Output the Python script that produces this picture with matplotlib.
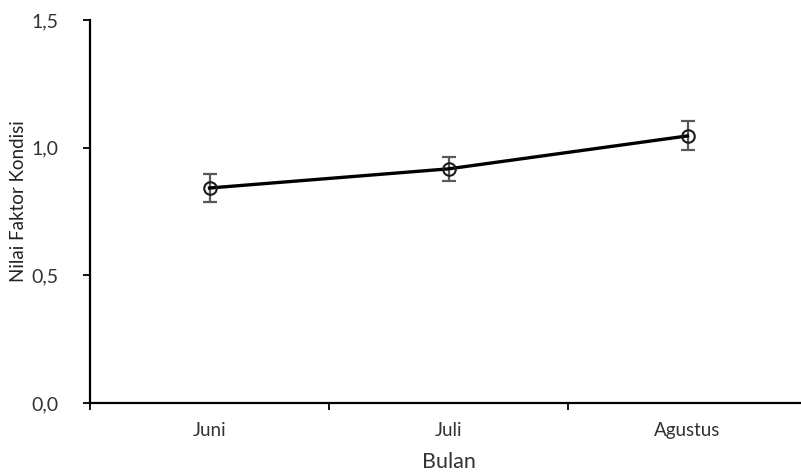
import matplotlib
matplotlib.use("Agg")
import matplotlib.pyplot as plt
from matplotlib.ticker import FixedLocator, FuncFormatter

months = ["Juni", "Juli", "Agustus"]
values = [0.842, 0.917, 1.046]
errors = [0.053, 0.047, 0.057]
yticks = [0.0, 0.5, 1.0, 1.5]

plt.rcParams['font.family'] = ['Lato', 'DejaVu Sans']

fig = plt.figure(figsize=(8.01, 4.74), dpi=100)
ax = fig.add_axes([90/801, 71/474, 717/801, 383/474])

x = list(range(len(months)))
ax.errorbar(x, values, yerr=errors, fmt='none', ecolor='#595959', elinewidth=1.6,
            capsize=5, capthick=1.6, zorder=2)
ax.plot(x, values, color='black', lw=2.4, marker='o', markersize=9,
        markerfacecolor='none', markeredgecolor='#1a1a1a', markeredgewidth=1.5, zorder=3)

ax.set_xlim(-0.5, 2.5)
ax.set_ylim(0, 1.5)
ax.set_yticks(yticks)
ax.yaxis.set_major_formatter(FuncFormatter(lambda v, p: f"{v:.1f}".replace('.', ',')))
ax.set_xticks(x)
ax.set_xticklabels(months)
ax.xaxis.set_minor_locator(FixedLocator([-0.5, 0.5, 1.5, 2.5]))
ax.tick_params(axis='x', which='major', length=0, pad=14, labelsize=13.5, colors='#333333')
ax.tick_params(axis='x', which='minor', length=5, width=1.3, direction='out')
ax.tick_params(axis='y', which='major', length=5, width=1.3, direction='out', pad=18,
               labelsize=14, labelcolor='#333333')

for s in ['top', 'right']:
    ax.spines[s].set_visible(False)
for s in ['left', 'bottom']:
    ax.spines[s].set_linewidth(1.6)
    ax.spines[s].set_color('black')

ax.set_xlabel("Bulan", fontsize=15.5, color='#333333', labelpad=9)
ax.set_ylabel("Nilai Faktor Kondisi", fontsize=13.5, color='#222222')
ax.yaxis.set_label_coords(-0.088, 0.526)

fig.savefig("out.png", dpi=100)
